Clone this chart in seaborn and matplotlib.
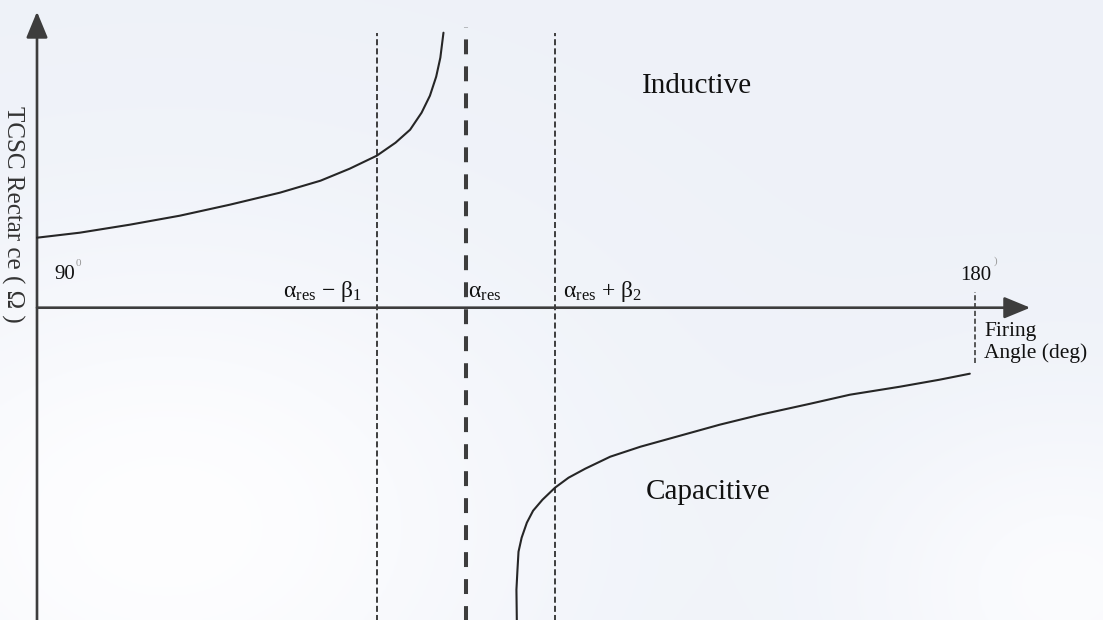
import numpy as np
import pandas as pd
import matplotlib
matplotlib.use("Agg")
import matplotlib.pyplot as plt
import seaborn as sns

# Firing angle (deg) and TCSC reactance (arbitrary units) along each branch
inductive_angle = [90.0, 94.1, 98.9, 103.7, 108.5, 113.3, 117.2, 120.0, 122.6,
                   124.4, 125.8, 126.9, 127.7, 128.3, 128.7, 129.0]
inductive_reactance = [7.0, 7.5, 8.3, 9.2, 10.3, 11.5, 12.7, 13.9, 15.2,
                       16.5, 17.8, 19.5, 21.2, 23.1, 25.0, 27.5]

capacitive_angle = [136.05, 136.0, 136.1, 136.2, 136.5, 137.0, 137.6, 138.5, 139.7,
                    141.0, 142.6, 145.0, 147.9, 151.7, 155.5, 159.4, 164.2, 168.0,
                    172.8, 176.6, 179.5]
capacitive_reactance = [-32.2, -28.2, -26.2, -24.4, -23.0, -21.5, -20.3, -19.2, -18.0,
                        -17.0, -16.1, -14.9, -13.9, -12.8, -11.7, -10.7, -9.6, -8.7,
                        -7.9, -7.2, -6.6]

# Resonance region markers
marker_angles = [122.6, 131.2, 139.7]
marker_labels = ["\u03b1$_{\\rm res}$ \u2212 \u03b2$_{1}$", "\u03b1$_{\\rm res}$",
                 "\u03b1$_{\\rm res}$ + \u03b2$_{2}$"]
angle_start, angle_end = 90, 180
angle_labels = ["90", "180"]
region_labels = ["Inductive", "Capacitive"]
y_title = "TCSC Rectar ce ( \u03a9 )"
x_title = "Firing\nAngle (deg)"

sns.set_theme(style="white")
plt.rcParams["font.family"] = ["Liberation Serif", "DejaVu Serif"]
plt.rcParams["mathtext.fontset"] = "custom"
plt.rcParams["mathtext.rm"] = "Liberation Serif"
plt.rcParams["mathtext.it"] = "Liberation Serif:italic"

fig = plt.figure(figsize=(11.03, 6.2), dpi=100)
ax = fig.add_axes([0, 0, 1, 1])
x0, x1 = 86.45, 192.28
y0, y1 = -31.23, 30.77
ax.set_xlim(x0, x1)
ax.set_ylim(y0, y1)
ax.set_axis_off()

# paper tone: pale blue-grey with lighter patches
gx, gy = np.meshgrid(np.linspace(0, 1, 300), np.linspace(0, 1, 300))
w1 = np.exp(-(((gx - 0.15) / 0.35) ** 2 + ((gy - 0.15) / 0.45) ** 2))
w2 = np.exp(-(((gx - 0.97) / 0.2) ** 2 + ((gy - 0.05) / 0.3) ** 2))
light = np.clip(w1 + 0.8 * w2, 0, 1)
base = np.array([0.935, 0.948, 0.975])
white = np.array([0.995, 0.995, 1.0])
img = base[None, None, :] * (1 - light[..., None]) + white[None, None, :] * light[..., None]
ax.imshow(img, extent=[x0, x1, y0, y1], origin="lower", aspect="auto", zorder=0)

axis_col = "#3d3d3d"
ink = "#262626"

# axes with arrow heads
ax.annotate("", xy=(90, 29.6), xytext=(90, y0 - 1),
            arrowprops=dict(arrowstyle="-|>,head_length=0.8,head_width=0.33",
                            lw=1.9, color=axis_col, mutation_scale=20, shrinkA=0, shrinkB=0),
            zorder=3)
ax.annotate("", xy=(185.3, 0), xytext=(90, 0),
            arrowprops=dict(arrowstyle="-|>,head_length=0.8,head_width=0.33",
                            lw=1.9, color=axis_col, mutation_scale=20, shrinkA=0, shrinkB=0),
            zorder=3)

# reactance branches
ind = pd.DataFrame({"angle": inductive_angle, "reactance": inductive_reactance})
cap = pd.DataFrame({"angle": capacitive_angle, "reactance": capacitive_reactance})
sns.lineplot(data=ind, x="angle", y="reactance", sort=False, estimator=None,
             color=ink, lw=1.5, ax=ax, zorder=4)
sns.lineplot(data=cap, x="angle", y="reactance", sort=False, estimator=None,
             color=ink, lw=1.5, ax=ax, zorder=4)

# resonance boundaries
top = 27.5
ax.vlines(marker_angles[0], y0 - 1, top, colors=axis_col, lw=1.4,
          linestyles=(0, (3.1, 1.6)), zorder=2)
ax.vlines(marker_angles[1], y0 - 1, top + 0.6, colors=axis_col, lw=2.9,
          linestyles=(0, (3.7, 3.0)), zorder=2)
ax.vlines(marker_angles[2], y0 - 1, top, colors=axis_col, lw=1.4,
          linestyles=(0, (3.1, 1.6)), zorder=2)
ax.vlines(angle_end, -5.5, 1.6, colors=axis_col, lw=1.2,
          linestyles=(0, (3.1, 1.6)), zorder=2)

txt = "#111111"
ax.text(marker_angles[0] - 1.4, 1.05, marker_labels[0], ha="right", va="baseline",
        fontsize=17, color=txt)
ax.text(marker_angles[1] + 0.2, 1.05, marker_labels[1], ha="left", va="baseline",
        fontsize=17, color=txt)
ax.text(marker_angles[2] + 0.8, 1.05, marker_labels[2], ha="left", va="baseline",
        fontsize=17, color=txt)

ax.text(91.7, 2.9, angle_labels[0], ha="left", va="baseline", fontsize=15, color=txt)
ax.text(93.75, 4.2, "0", ha="left", va="baseline", fontsize=8, color="#9a9a9a")
ax.text(181.6, 2.8, angle_labels[1], ha="right", va="baseline", fontsize=15, color=txt)
ax.text(181.8, 4.4, ")", ha="left", va="baseline", fontsize=8, color="#9a9a9a")

ax.text(180.9, -1.4, x_title, ha="left", va="top", fontsize=15.5, color=txt,
        linespacing=1.15)
ax.text(87.65, 9.3, y_title, ha="center", va="center", rotation=270,
        fontsize=18, color="#333333")

ax.text(153.3, 22.2, region_labels[0], ha="center", va="center", fontsize=21, color=txt)
ax.text(154.4, -18.4, region_labels[1], ha="center", va="center", fontsize=21, color=txt)

fig.savefig("out.png", dpi=100)
